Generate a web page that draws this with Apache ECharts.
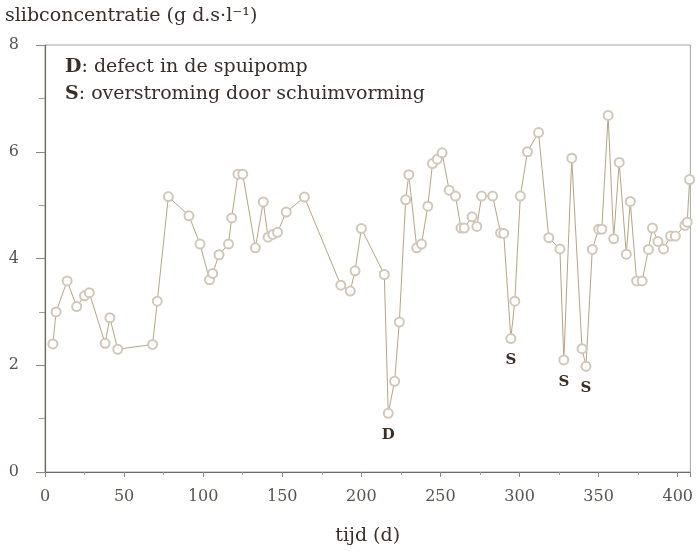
<!DOCTYPE html>
<html>
<head>
<meta charset="utf-8">
<script src="https://cdn.jsdelivr.net/npm/echarts@6/dist/echarts.min.js"></script>
<style>
  html, body { margin: 0; padding: 0; background: #ffffff; }
  #chart { width: 696px; height: 551px; }
</style>
</head>
<body>
<div id="chart"></div>
<script>
// Sludge concentration over time (days)
const days = [5, 7, 14, 20, 25, 28, 38, 41, 46, 68,
  71, 78, 91, 98, 104, 106, 110, 116, 118, 122,
  125, 133, 138, 141, 144, 147, 152.5, 164, 187, 193,
  196, 200, 214.5, 217, 221, 224, 228, 230, 235, 238,
  242, 245, 248, 251, 255.5, 259.5, 263, 265, 270, 273,
  276, 283, 288, 290, 294.5, 297, 300.5, 305, 312, 318.5,
  325.5, 328, 333, 339.5, 342, 346, 350, 352, 356, 359.5,
  363, 367.5, 370, 374, 377.5, 381.5, 384, 387.5, 391, 395.5,
  398.5, 404.5, 406, 407.5];
const sludge = [2.4, 3.0, 3.58, 3.1, 3.3, 3.36, 2.41, 2.89, 2.3, 2.39,
  3.2, 5.16, 4.8, 4.27, 3.6, 3.72, 4.07, 4.27, 4.76, 5.58,
  5.58, 4.2, 5.06, 4.4, 4.45, 4.49, 4.87, 5.15, 3.5, 3.39,
  3.77, 4.56, 3.7, 1.1, 1.7, 2.81, 5.1, 5.57, 4.2, 4.27,
  4.98, 5.78, 5.86, 5.98, 5.28, 5.17, 4.57, 4.57, 4.78, 4.6,
  5.17, 5.17, 4.48, 4.47, 2.5, 3.2, 5.17, 6.0, 6.36, 4.39,
  4.18, 2.1, 5.88, 2.31, 1.98, 4.17, 4.55, 4.55, 6.68, 4.37,
  5.8, 4.08, 5.07, 3.58, 3.58, 4.17, 4.57, 4.32, 4.18, 4.42,
  4.42, 4.62, 4.68, 5.48];

// Incidents: D = pump defect, S = foam overflow
const eventDays = [217, 294.5, 328, 342];
const eventCodes = ['D', 'S', 'S', 'S'];

const xTicks = [0, 50, 100, 150, 200, 250, 300, 350, 400];
const yTicks = [0, 2, 4, 6, 8];

const serif = '"DejaVu Serif", "Liberation Serif", serif';
const textColor = '#3a2e28';

const seriesData = days.map((d, i) => {
  const k = eventDays.indexOf(d);
  const item = { value: [d, sludge[i]] };
  if (k >= 0) {
    item.label = {
      show: true,
      formatter: eventCodes[k],
      position: 'bottom',
      distance: 9,
      fontFamily: serif,
      fontWeight: 'bold',
      fontSize: 15,
      color: textColor
    };
  }
  return item;
});

const boldRich = { b: { fontWeight: 'bold', fontSize: 19, fontFamily: serif, fill: textColor, color: textColor } };

const chart = echarts.init(document.getElementById('chart'), null, { renderer: 'canvas' });
chart.setOption({
  animation: false,
  backgroundColor: '#ffffff',
  grid: {
    left: 45, top: 45, right: 4, bottom: 78,
    show: true, borderColor: '#a8a4a0', borderWidth: 1, backgroundColor: 'transparent'
  },
  graphic: [
    {
      type: 'text', left: 5, top: 7,
      style: { text: 'slibconcentratie (g d.s·l⁻¹)', font: '19px ' + serif, fill: textColor }
    },
    {
      type: 'text', left: 65, top: 58,
      style: { text: '{b|D}: defect in de spuipomp', font: '19px ' + serif, fill: textColor, rich: boldRich }
    },
    {
      type: 'text', left: 65, top: 85,
      style: { text: '{b|S}: overstroming door schuimvorming', font: '19px ' + serif, fill: textColor, rich: boldRich }
    }
  ],
  xAxis: {
    type: 'value',
    min: 0, max: 408, interval: 50,
    name: 'tijd (d)',
    nameLocation: 'middle',
    nameGap: 55,
    nameTextStyle: { fontFamily: serif, fontSize: 19, color: textColor },
    axisLine: { show: true, lineStyle: { color: '#6e6a66', width: 1.2 } },
    axisTick: { show: true, length: 5, lineStyle: { color: '#8a8680' } },
    minorTick: { show: true, splitNumber: 2, length: 3, lineStyle: { color: '#a09c98' } },
    splitLine: { show: false },
    axisLabel: {
      fontFamily: serif, fontSize: 16, color: '#5a5450', margin: 17,
      formatter: v => (xTicks.indexOf(v) >= 0 ? String(v) : '')
    }
  },
  yAxis: {
    type: 'value',
    min: 0, max: 8, interval: 2,
    axisLine: { show: true, lineStyle: { color: '#6e6a66', width: 1.2 } },
    axisTick: { show: true, length: 9, lineStyle: { color: '#8a8680' } },
    minorTick: { show: true, splitNumber: 2, length: 6, lineStyle: { color: '#a09c98' } },
    splitLine: { show: false },
    axisLabel: {
      fontFamily: serif, fontSize: 16, color: '#5a5450', margin: 26,
      formatter: v => (yTicks.indexOf(v) >= 0 ? String(v) : '')
    }
  },
  series: [{
    type: 'line',
    data: seriesData,
    symbol: 'emptyCircle',
    symbolSize: 9,
    lineStyle: { color: '#b8a482', width: 1 },
    itemStyle: { color: '#d2c8ba', borderColor: '#c8bcaa', borderWidth: 1 },
    z: 3
  }]
});
</script>
</body>
</html>
